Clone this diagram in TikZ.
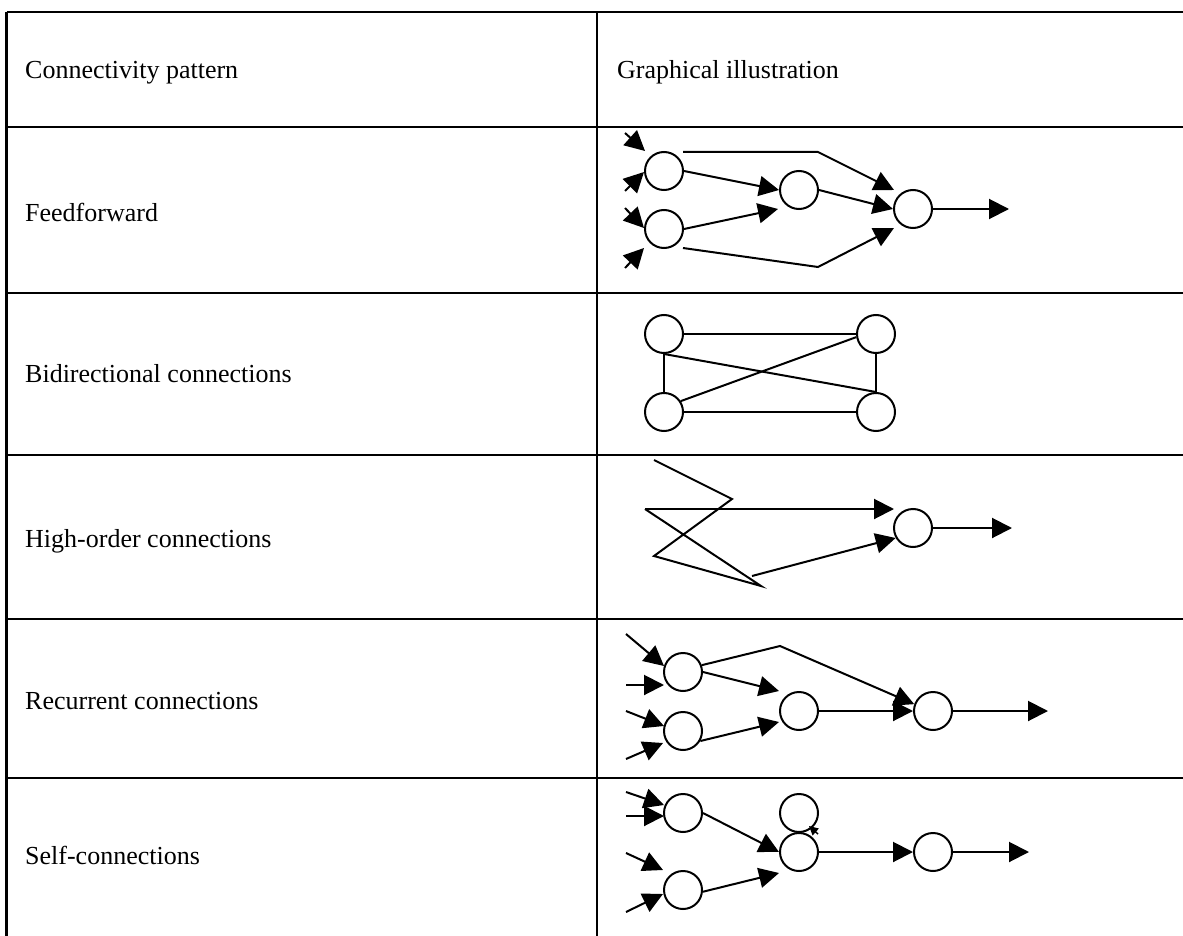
\documentclass[tikz,border=0pt]{standalone}
\usepackage{fontspec}
\setmainfont{Liberation Serif}
\usetikzlibrary{arrows.meta}
\begin{document}
\begin{tikzpicture}[x=1pt,y=-1pt,
  grid/.style={line width=2.7pt},
  neuron/.style={circle,draw,line width=2pt,minimum size=38pt,inner sep=0pt},
  link/.style={line width=2pt},
  arr/.style={line width=2pt,-{Triangle[length=20pt,width=20pt]}},
  smallarr/.style={line width=1.5pt,-{Triangle[length=9pt,width=9pt]}},
  lbl/.style={anchor=base west,inner sep=0pt,font=\fontsize{26pt}{30pt}\selectfont}]
\useasboundingbox (0,0) rectangle (1183,936);
% ---------- table ----------
\draw[grid] (6.5,12) -- (1183,12);
\foreach \yy in {127,293,455,619,778} \draw[grid] (6.5,\yy) -- (1183,\yy);
\draw[grid] (6.5,12) -- (6.5,936);
\draw[grid] (597,12) -- (597,936);
% ---------- texts ----------
\node[lbl] (h1) at (25,79) {Connectivity pattern};
\node[lbl] (h2) at (617,79) {Graphical illustration};
\node[lbl] (t1) at (25,222) {Feedforward};
\node[lbl] (t2) at (25,382) {Bidirectional connections};
\node[lbl] (t3) at (25,547) {High-order connections};
\node[lbl] (t4) at (25,709) {Recurrent connections};
\node[lbl] (t5) at (25,864) {Self-connections};
% ---------- row 1: feedforward ----------
\node[neuron] (f1) at (664,171) {};
\node[neuron] (f2) at (664,229) {};
\node[neuron] (f3) at (799,190) {};
\node[neuron] (f4) at (913,209) {};
\coordinate (fi1) at (625,133); \coordinate (fe1) at (645,151);
\coordinate (fi2) at (625,191); \coordinate (fe2) at (644,172);
\coordinate (fi3) at (625,208); \coordinate (fe3) at (644,228);
\coordinate (fi4) at (625,268); \coordinate (fe4) at (644,248);
\draw[arr] (fi1) -- (fe1);
\draw[arr] (fi2) -- (fe2);
\draw[arr] (fi3) -- (fe3);
\draw[arr] (fi4) -- (fe4);
\draw[arr] (f1.east) -- (f3.west);
\coordinate (f3in) at (778,209);
\draw[arr] (f2.east) -- (f3in);
\coordinate (ftop0) at (683,152); \coordinate (ftop1) at (818,152); \coordinate (ftop2) at (894,190);
\draw[arr] (ftop0) -- (ftop1) -- (ftop2);
\draw[arr] (f3.east) -- (f4.west);
\coordinate (fbot0) at (683,248); \coordinate (fbot1) at (818,267); \coordinate (fbot2) at (894,228);
\draw[arr] (fbot0) -- (fbot1) -- (fbot2);
\coordinate (fout) at (1009,209);
\draw[arr] (f4.east) -- (fout);
% ---------- row 2: bidirectional ----------
\node[neuron] (b1) at (664,334) {};
\node[neuron] (b2) at (876,334) {};
\node[neuron] (b3) at (664,412) {};
\node[neuron] (b4) at (876,412) {};
\draw[link] (b1.east) -- (b2.west);
\draw[link] (b3.east) -- (b4.west);
\draw[link] (b1.south) -- (b3.north);
\draw[link] (b2.south) -- (b4.north);
\draw[link] (b1.south) -- (b4.north);
\draw[link] (b3.33) -- (b2.189);
% ---------- row 3: high-order ----------
\node[neuron] (o1) at (913,528) {};
\coordinate (z1) at (654,460); \coordinate (z2) at (732,499);
\coordinate (z3) at (654,556); \coordinate (z4) at (761,586);
\coordinate (z5) at (645,509); \coordinate (z6) at (894,509);
\coordinate (z7) at (752,576);
\draw[link] (z1) -- (z2) -- (z3) -- (z4) -- (z5);
\draw[arr] (z5) -- (z6);
\draw[arr] (z7) -- (o1.210);
\coordinate (oout) at (1012,528);
\draw[arr] (o1.east) -- (oout);
% ---------- row 4: recurrent ----------
\node[neuron] (r1) at (683,672) {};
\node[neuron] (r2) at (683,731) {};
\node[neuron] (r3) at (799,711) {};
\node[neuron] (r4) at (933,711) {};
\coordinate (ri1) at (626,634); \coordinate (re1) at (664,666);
\coordinate (ri2) at (626,685); \coordinate (re2) at (664,685);
\coordinate (ri3) at (626,711); \coordinate (re3) at (664,726);
\coordinate (ri4) at (626,759); \coordinate (re4) at (663,743);
\draw[arr] (ri1) -- (re1);
\draw[arr] (ri2) -- (re2);
\draw[arr] (ri3) -- (re3);
\draw[arr] (ri4) -- (re4);
\coordinate (r3a) at (779,691); \coordinate (r3b) at (779,722);
\draw[arr] (r1.east) -- (r3a);
\draw[arr] (r2.-30) -- (r3b);
\coordinate (rtop) at (780,646);
\draw[arr] (r1.20) -- (rtop) -- (r4.160);
\draw[arr] (r3.east) -- (r4.west);
\coordinate (rout) at (1048,711);
\draw[arr] (r4.east) -- (rout);
% ---------- row 5: self-connections ----------
\node[neuron] (s1) at (683,813) {};
\node[neuron] (s2) at (683,890) {};
\node[neuron] (sl) at (799,813) {};
\node[neuron] (s3) at (799,852) {};
\node[neuron] (s4) at (933,852) {};
\coordinate (si1) at (626,792); \coordinate (se1) at (664,805);
\coordinate (si2) at (626,816); \coordinate (se2) at (664,816);
\coordinate (si3) at (626,853); \coordinate (se3) at (663,870);
\coordinate (si4) at (626,912); \coordinate (se4) at (663,894);
\draw[arr] (si1) -- (se1);
\draw[arr] (si2) -- (se2);
\draw[arr] (si3) -- (se3);
\draw[arr] (si4) -- (se4);
\draw[arr] (s1.east) -- (s3.west);
\coordinate (s3b) at (779,873);
\draw[arr] (s2.-5) -- (s3b);
\draw[arr] (s3.east) -- (s4.west);
\coordinate (sout) at (1029,852);
\draw[arr] (s4.east) -- (sout);
\coordinate (sla) at (818,834); \coordinate (slb) at (809,826);
\draw[smallarr] (sla) -- (slb);
\end{tikzpicture}
\end{document}
